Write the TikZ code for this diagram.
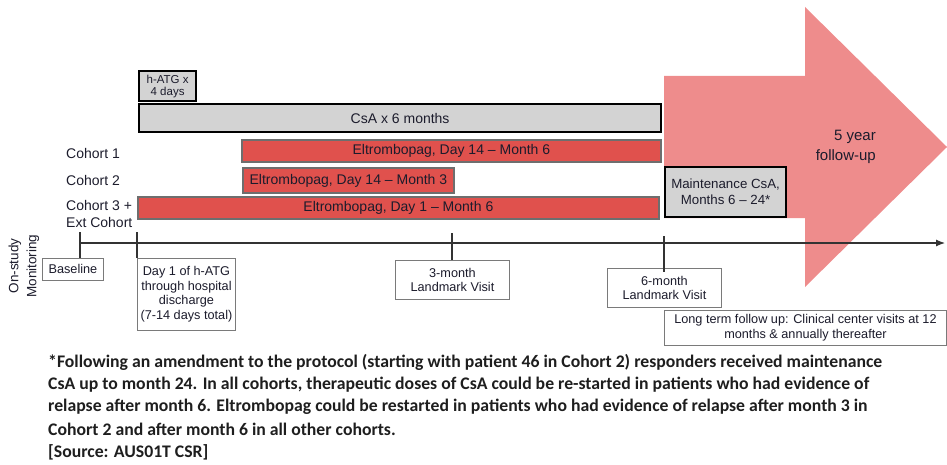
\documentclass[tikz,border=0pt]{standalone}
\usepackage{fontspec}
\setmainfont{Liberation Sans}
\newfontfamily\notefont{Carlito}
\usetikzlibrary{arrows.meta}
\definecolor{barred}{HTML}{E0514D}
\definecolor{barline}{HTML}{6E6E6E}
\definecolor{boxgray}{HTML}{D3D3D3}
\definecolor{pinkarrow}{HTML}{EE8C8C}
\definecolor{txt}{HTML}{1C1C2C}
\definecolor{thinline}{HTML}{7A7A7A}
\definecolor{notetxt}{HTML}{1E1E1E}
\tikzset{
  graybox/.style={draw=black, line width=2.2pt, fill=boxgray, inner sep=0pt, anchor=north west, align=center, text=txt},
  redbar/.style={draw=barline, line width=1.8pt, fill=barred, inner sep=0pt, anchor=north west, text=txt, font=\fontsize{14}{16}\selectfont},
  notebox/.style={draw=thinline, line width=0.9pt, fill=white, inner sep=0pt, anchor=north west, align=center, text=txt, font=\fontsize{12.7}{14.5}\selectfont},
  cohortlabel/.style={anchor=west, align=left, inner sep=0pt, text=txt, font=\fontsize{14}{17}\selectfont},
  tick/.style={draw=black!80, line width=1.2pt},
  footline/.style={anchor=west, inner sep=0pt, text=notetxt, font=\notefont\bfseries\fontsize{17.7}{20}\selectfont}
}
\begin{document}
\begin{tikzpicture}[x=1pt, y=-1pt]
\useasboundingbox (0,0) rectangle (947,465);
% big follow-up arrow
\fill[pinkarrow] (664,76) -- (805,76) -- (805,7) -- (947,147) -- (805,287) -- (805,218) -- (664,218) -- cycle;
\node[anchor=east, align=right, inner sep=0pt, text=txt, font=\fontsize{15}{20}\selectfont] (fu) at (876,147) {5 year\\follow-up};

% treatment bars
\node[graybox, minimum width=57pt, minimum height=30pt, font=\fontsize{11.5}{12}\selectfont] (hatg) at (138,70) {h-ATG x\\4 days};
\node[graybox, minimum width=522pt, minimum height=28pt, font=\fontsize{14}{16}\selectfont] (csa) at (138,103) {CsA x 6 months};
\node[redbar, minimum width=419pt, minimum height=22pt] (e1) at (241,139) {Eltrombopag, Day 14 -- Month 6};
\node[redbar, minimum width=211pt, minimum height=25pt] (e2) at (242,167) {Eltrombopag, Day 14 -- Month 3};
\node[redbar, minimum width=521pt, minimum height=22pt] (e3) at (137,196) {Eltrombopag, Day 1 -- Month 6};
\node[graybox, minimum width=121pt, minimum height=50pt, font=\fontsize{13.3}{16}\selectfont] (maint) at (664,166) {Maintenance CsA,\\Months 6 -- 24*};

% cohort labels
\node[cohortlabel] (c1) at (66,153) {Cohort 1};
\node[cohortlabel] (c2) at (66,180) {Cohort 2};
\node[cohortlabel] (c3) at (66,213.5) {Cohort 3 +\\Ext Cohort};

% timeline
\coordinate (tstart) at (80,243);
\coordinate (tend) at (945,243);
\draw[draw=black!80, line width=1.2pt, -{Latex[length=9pt,width=7pt]}] (tstart) -- (tend);

% annotation boxes
\node[notebox, minimum width=61pt, minimum height=22pt] (base) at (42,258) {Baseline};
\node[notebox, minimum width=98pt, minimum height=72pt] (day1) at (137,258) {Day 1 of h-ATG\\through hospital\\discharge\\(7-14 days total)};
\node[notebox, minimum width=114pt, minimum height=39pt] (m3) at (395,260) {3-month\\Landmark Visit};
\node[notebox, minimum width=114pt, minimum height=39pt] (m6) at (607,268) {6-month\\Landmark Visit};
\node[notebox, minimum width=282pt, minimum height=35pt] (lt) at (664,310) {Long term follow up: Clinical center visits at 12\\months \& annually thereafter};

% ticks
\coordinate (k0) at (80,232);
\coordinate (k1) at (137,232);
\coordinate (k2) at (452,233);
\coordinate (k3) at (664,236);
\draw[tick] (k0) -- (k0 |- base.north);
\draw[tick] (k1) -- (k1 |- day1.north);
\draw[tick] (k2) -- (k2 |- m3.north);
\draw[tick] (k3) -- ([yshift=-4pt]k3 |- m6.north);

% side label
\node[rotate=90, align=center, inner sep=0pt, text=txt, font=\fontsize{13.5}{18}\selectfont] (mon) at (24,266) {On-study\\Monitoring};

% footnote
\node[footline] (f1) at (48,362) {*Following an amendment to the protocol (starting with patient 46 in Cohort 2) responders received maintenance};
\node[footline] (f2) at (48,384.5) {CsA up to month 24. In all cohorts, therapeutic doses of CsA could be re-started in patients who had evidence of};
\node[footline] (f3) at (48,407) {relapse after month 6. Eltrombopag could be restarted in patients who had evidence of relapse after month 3 in};
\node[footline] (f4) at (48,429.5) {Cohort 2 and after month 6 in all other cohorts.};
\node[footline] (f5) at (48,452) {[Source: AUS01T CSR]};
\end{tikzpicture}
\end{document}
